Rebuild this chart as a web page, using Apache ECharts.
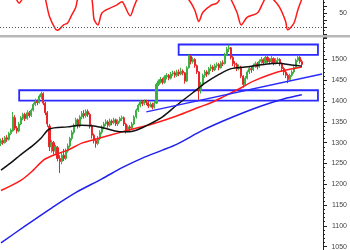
<!DOCTYPE html>
<html>
<head>
<meta charset="utf-8">
<script src="https://cdn.jsdelivr.net/npm/echarts@6/dist/echarts.min.js"></script>
<style>
html,body{margin:0;padding:0;background:#fff;}
#chart{width:350px;height:250px;}
</style>
</head>
<body>
<div id="chart"></div>
<script>
// Candles: [open, close, low, high]
var candles = [
[1298,1305,1292,1310],[1305,1300,1295,1312],[1300,1312,1298,1316],[1312,1308,1302,1318],[1308,1322,1305,1326],
[1322,1330,1318,1334],[1328,1362,1326,1374],[1360,1335,1330,1366],[1335,1328,1322,1340],[1328,1345,1325,1350],
[1345,1360,1342,1364],[1358,1368,1354,1372],[1368,1358,1352,1372],[1358,1372,1355,1378],[1372,1365,1360,1376],
[1365,1378,1362,1382],[1378,1392,1375,1396],[1392,1400,1388,1406],[1400,1396,1390,1404],[1396,1412,1394,1416],
[1410,1418,1405,1423],[1418,1395,1390,1421],[1395,1372,1366,1398],[1372,1345,1338,1376],[1340,1290,1280,1345],
[1290,1300,1276,1306],[1300,1280,1272,1304],[1280,1290,1270,1295],[1288,1262,1255,1292],[1262,1255,1227,1270],
[1255,1270,1248,1276],[1270,1262,1256,1285],[1262,1280,1258,1286],[1280,1292,1276,1298],[1292,1310,1288,1314],
[1310,1325,1305,1330],[1325,1342,1320,1346],[1342,1355,1338,1360],[1355,1340,1334,1358],[1340,1362,1336,1366],
[1362,1370,1356,1376],[1370,1365,1358,1378],[1365,1375,1360,1380],[1375,1368,1362,1380],[1368,1340,1334,1372],
[1340,1318,1310,1344],[1318,1305,1298,1322],[1305,1298,1288,1310],[1298,1310,1294,1316],[1310,1325,1306,1330],
[1325,1338,1320,1342],[1338,1345,1332,1350],[1345,1350,1340,1356],[1350,1342,1336,1354],[1342,1352,1338,1358],
[1352,1348,1342,1356],[1348,1355,1344,1360],[1355,1345,1340,1358],[1345,1352,1340,1356],[1352,1358,1348,1362],
[1358,1360,1352,1365],[1360,1345,1340,1363],[1345,1328,1322,1348],[1328,1338,1325,1342],[1338,1335,1328,1342],
[1335,1345,1332,1350],[1345,1362,1342,1366],[1362,1378,1358,1382],[1378,1390,1374,1394],[1390,1398,1385,1402],
[1398,1394,1388,1402],[1394,1400,1390,1404],[1400,1396,1390,1403],[1396,1388,1383,1400],[1388,1392,1385,1397],
[1392,1385,1380,1396],[1385,1395,1382,1400],[1395,1440,1393,1444],[1440,1448,1436,1452],[1448,1452,1442,1458],
[1452,1445,1440,1456],[1445,1458,1442,1462],[1458,1462,1452,1467],[1462,1455,1450,1465],[1455,1465,1452,1470],
[1465,1468,1460,1473],[1468,1462,1456,1472],[1462,1470,1458,1475],[1470,1465,1460,1476],[1465,1472,1462,1480],
[1472,1468,1462,1476],[1468,1448,1442,1470],[1448,1480,1446,1484],[1480,1508,1478,1512],[1508,1495,1488,1510],
[1495,1500,1490,1505],[1500,1485,1480,1503],[1485,1470,1465,1488],[1470,1425,1403,1472],[1425,1440,1418,1446],
[1440,1462,1436,1466],[1462,1470,1456,1475],[1470,1465,1458,1474],[1465,1478,1462,1482],[1478,1482,1472,1488],
[1482,1475,1470,1486],[1475,1485,1472,1490],[1485,1488,1480,1493],[1488,1480,1474,1492],[1480,1492,1478,1496],
[1492,1490,1484,1498],[1490,1512,1488,1516],[1512,1525,1508,1530],[1525,1528,1518,1535],[1528,1505,1500,1530],
[1505,1490,1484,1508],[1490,1488,1480,1496],[1488,1478,1472,1492],[1478,1482,1474,1488],[1482,1460,1455,1485],
[1460,1440,1432,1462],[1440,1455,1436,1460],[1455,1470,1452,1474],[1470,1478,1465,1482],[1478,1475,1468,1482],
[1475,1485,1472,1490],[1485,1490,1480,1495],[1490,1482,1476,1494],[1482,1495,1480,1500],[1495,1500,1490,1506],
[1500,1492,1486,1503],[1492,1505,1490,1511],[1505,1498,1492,1508],[1498,1495,1488,1503],[1495,1502,1490,1508],
[1502,1492,1486,1505],[1492,1498,1488,1503],[1498,1500,1492,1505],[1500,1490,1484,1503],[1490,1478,1472,1493],
[1478,1470,1462,1482],[1470,1462,1455,1474],[1462,1452,1443,1466],[1452,1462,1448,1466],[1462,1470,1458,1474],
[1470,1480,1466,1484],[1480,1498,1477,1502],[1498,1505,1494,1510],[1505,1495,1490,1508],[1495,1488,1482,1500]
];
// Moving averages as [barIndex, value]
var blackMA = [[0,1234],[5,1252],[10,1272],[16,1294],[20,1312],[24,1333],[33,1338],[40,1342],[46,1340],[52,1334],[58,1327],[63,1326],[67,1330],[70,1336],[75,1348],[80,1362],[87,1390],[95,1420],[101,1443],[108,1464],[114,1478],[121,1482],[130,1488],[137,1491],[145,1486],[149,1484]];
var redMA = [[0,1185],[10,1210],[16,1234],[21,1258],[25,1268],[33,1282],[40,1299],[45,1306],[60,1326],[75,1345],[87,1364],[98,1385],[104,1396],[110,1410],[119,1432],[125,1448],[137,1470],[149,1482]];
var blueMA = [[0,1059],[12,1100],[25,1143],[37,1180],[50,1213],[60,1240],[70,1263],[80,1282],[87,1296],[100,1330],[110,1352],[120,1372],[130,1390],[140,1405],[149,1415]];
var trendLine = [[72,1374],[159,1465]];
// Boxes: [[startIndex, lowPrice], [endIndex, highPrice]]
var boxes = [[[88,1511],[157,1536]], [[9,1401],[157,1426]]];
// Oscillator as [barIndex, value]
var rsi = [[0,80],[4,78],[7,72],[9,64],[11,72],[14,80],[18,85],[21,80],[22,70],[24,45],[27,27],[28,25.5],[31,33],[33,35.7],[35,47],[37,58],[38,70],[40,78],[43,80],[45,70],[46,42],[47,36],[48,33],[50,50],[54,57],[57,61],[60,66],[61,62],[64,46],[66,60],[68,72],[72,80],[80,82],[88,80],[93,69],[96,54],[98,38],[100,51],[104,61],[107,64],[109,72],[112,78],[114,69],[117,50],[119,33],[122,44],[127,50],[130,66],[132,75],[135,69],[138,58],[141,38],[142,26],[145,35],[147,54],[149,70]];
var rsiLevels = [30];
var yLabelsPrice = [1050,1100,1150,1200,1250,1300,1350,1400,1450,1500];
var yLabelsOsc = [50];

var N = 160;
var cats = [];
for (var i = 0; i < N; i++) cats.push('b' + i);

var chart = echarts.init(document.getElementById('chart'), null, {renderer: 'canvas'});
var axisCommon = {
  position: 'right',
  axisLine: {show: true, lineStyle: {color: '#222', width: 1}},
  axisTick: {show: true, length: 4, lineStyle: {color: '#222'}},
  minorTick: {show: true, length: 2, lineStyle: {color: '#222'}},
  splitLine: {show: false},
  axisLabel: {fontSize: 7, fontFamily: 'Liberation Sans', color: '#444', align: 'right', margin: 24}
};
var option = {
  animation: false,
  backgroundColor: '#fff',
  grid: [
    {left: 0, right: 27, top: -1, height: 35, outerBoundsMode: 'none', containLabel: false},
    {left: 0, right: 27, top: 37, height: 230.5, outerBoundsMode: 'none', containLabel: false}
  ],
  xAxis: [
    {type: 'category', gridIndex: 0, data: cats, show: false, boundaryGap: true},
    {type: 'category', gridIndex: 1, data: cats, show: false, boundaryGap: true}
  ],
  yAxis: [
    Object.assign({}, axisCommon, {type: 'value', gridIndex: 0, min: 20, max: 70, interval: 10,
      minorTick: {show: true, splitNumber: 2, length: 2, lineStyle: {color: '#222'}},
      axisLabel: Object.assign({}, axisCommon.axisLabel, {formatter: function (v) { return yLabelsOsc.indexOf(v) >= 0 ? String(v) : ''; }})}),
    Object.assign({}, axisCommon, {type: 'value', gridIndex: 1, min: 1000, max: 1554, interval: 50,
      minorTick: {show: true, splitNumber: 5, length: 2, lineStyle: {color: '#222'}},
      axisLabel: Object.assign({}, axisCommon.axisLabel, {formatter: function (v) { return yLabelsPrice.indexOf(v) >= 0 ? String(v) : ''; }})})
  ],
  graphic: [
    {type: 'rect', shape: {x: 0, y: 35, width: 350, height: 2.5}, style: {fill: '#b8b8b8'}, z: 100}
  ],
  series: [
    {
      type: 'line', xAxisIndex: 0, yAxisIndex: 0, data: rsi, smooth: 0.3, showSymbol: false, clip: true,
      lineStyle: {color: '#ff1a1a', width: 1.5},
      markLine: {silent: true, symbol: ['none', 'none'], label: {show: false},
        lineStyle: {type: [1, 2], color: '#555', width: 1},
        data: rsiLevels.map(function (v) { return {yAxis: v}; })}
    },
    {
      type: 'candlestick', xAxisIndex: 1, yAxisIndex: 1, data: candles, barWidth: 1.6,
      itemStyle: {color: '#3cb043', color0: '#e8262a', borderColor: '#3cb043', borderColor0: '#e8262a', borderWidth: 1}
    },
    {type: 'line', xAxisIndex: 1, yAxisIndex: 1, data: redMA, smooth: 0.3, showSymbol: false, lineStyle: {color: '#ff1a1a', width: 1.5}},
    {type: 'line', xAxisIndex: 1, yAxisIndex: 1, data: blackMA, smooth: 0.3, showSymbol: false, lineStyle: {color: '#111', width: 1.5}},
    {type: 'line', xAxisIndex: 1, yAxisIndex: 1, data: blueMA, smooth: 0.3, showSymbol: false, lineStyle: {color: '#2020ee', width: 1.5}},
    {
      type: 'line', xAxisIndex: 1, yAxisIndex: 1, data: trendLine, showSymbol: false, lineStyle: {color: '#2a2aff', width: 1.5},
      markArea: {silent: true, itemStyle: {color: 'rgba(0,0,0,0)', borderColor: '#2a2aff', borderWidth: 1.8},
        data: boxes.map(function (b) { return [{xAxis: b[0][0], yAxis: b[0][1]}, {xAxis: b[1][0], yAxis: b[1][1]}]; })}
    }
  ]
};
chart.setOption(option);
</script>
</body>
</html>
